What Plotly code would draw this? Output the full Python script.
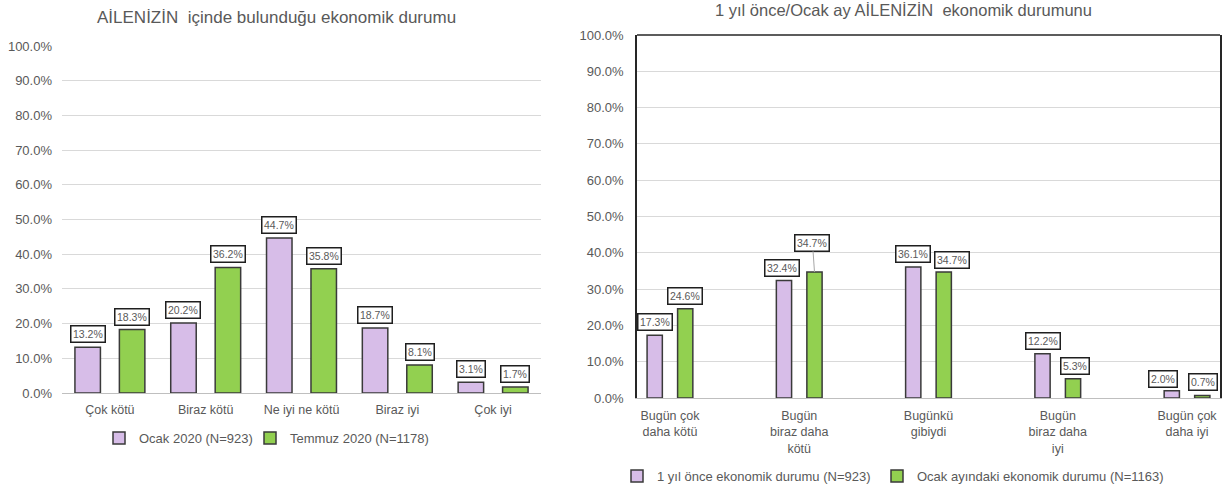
import plotly.graph_objects as go

# ---- data ----
left_categories = ["Çok kötü", "Biraz kötü", "Ne iyi ne kötü", "Biraz iyi", "Çok iyi"]
ocak_2020 = [13.2, 20.2, 44.7, 18.7, 3.1]
temmuz_2020 = [18.3, 36.2, 35.8, 8.1, 1.7]

right_categories = [
    "Bugün çok<br>daha kötü",
    "Bugün<br>biraz daha<br>kötü",
    "Bugünkü<br>gibiydi",
    "Bugün<br>biraz daha<br>iyi",
    "Bugün çok<br>daha iyi",
]
bir_yil_once = [17.3, 32.4, 36.1, 12.2, 2.0]
ocak_ayi = [24.6, 34.7, 34.7, 5.3, 0.7]

left_title = "AİLENİZİN  içinde bulunduğu ekonomik durumu"
right_title = "1 yıl önce/Ocak ay AİLENİZİN  ekonomik durumunu"
left_names = ["Ocak 2020 (N=923)", "Temmuz 2020 (N=1178)"]
right_names = ["1 yıl önce ekonomik durumu (N=923)", "Ocak ayındaki ekonomik durumu (N=1163)"]

# ---- style ----
PURPLE = "#D7BDE8"
GREEN = "#92D050"
EDGE = "#3A3A3A"
TXT = "#595959"
GRID = "#D9D9D9"
FONT = "Liberation Sans, Arial, sans-serif"

W, H = 1224, 486

fig = go.Figure()

# left panel bars (numeric positions so bar width/offset can be set explicitly)
lx = list(range(len(left_categories)))
L_W = 0.266
L_OFF = 0.232
fig.add_trace(go.Bar(
    x=lx, y=ocak_2020, name=left_names[0], width=L_W, offset=-L_OFF - L_W / 2,
    marker=dict(color=PURPLE, line=dict(color=EDGE, width=1.5)),
    xaxis="x", yaxis="y", legend="legend", showlegend=True,
))
fig.add_trace(go.Bar(
    x=lx, y=temmuz_2020, name=left_names[1], width=L_W, offset=L_OFF - L_W / 2,
    marker=dict(color=GREEN, line=dict(color=EDGE, width=1.5)),
    xaxis="x", yaxis="y", legend="legend3", showlegend=True,
))

# right panel bars
rx = list(range(len(right_categories)))
R_W = 0.118
R_OFF = 0.118
fig.add_trace(go.Bar(
    x=rx, y=bir_yil_once, name=right_names[0], width=R_W, offset=-R_OFF - R_W / 2,
    marker=dict(color=PURPLE, line=dict(color=EDGE, width=1.5)),
    xaxis="x2", yaxis="y2", legend="legend2", showlegend=True,
))
fig.add_trace(go.Bar(
    x=rx, y=ocak_ayi, name=right_names[1], width=R_W, offset=R_OFF - R_W / 2,
    marker=dict(color=GREEN, line=dict(color=EDGE, width=1.5)),
    xaxis="x2", yaxis="y2", legend="legend4", showlegend=True,
))

annotations = []


def value_label(xref, yref, x, y, xshift=0, yshift=13, lead=None):
    a = dict(
        xref=xref, yref=yref, x=x, y=y, text=f"{y:.1f}%",
        font=dict(family=FONT, size=10.5, color=TXT),
        bgcolor="white", bordercolor="#1F1F1F", borderwidth=1.5, borderpad=1.5,
    )
    if lead is None:
        a.update(showarrow=False, xshift=xshift, yshift=yshift, yanchor="middle")
    else:
        a.update(showarrow=True, ax=xshift, ay=-lead, arrowhead=0,
                 arrowwidth=1, arrowcolor="#A6A6A6")
    annotations.append(a)


for i, v in enumerate(ocak_2020):
    value_label("x", "y", i - L_OFF, v)
for i, v in enumerate(temmuz_2020):
    value_label("x", "y", i + L_OFF, v)

# right panel labels, some nudged sideways to avoid overlap
r_purple_shift = [(0, 13), (-2, 12), (0, 13), (0, 13), (-9, 12)]
r_green_shift = [(0, 13), (-2, None), (8, 12), (2, 13), (1, 13)]
for i, v in enumerate(bir_yil_once):
    dx, dy = r_purple_shift[i]
    value_label("x2", "y2", i - R_OFF, v, xshift=dx, yshift=dy)
for i, v in enumerate(ocak_ayi):
    dx, dy = r_green_shift[i]
    if dy is None:
        value_label("x2", "y2", i + R_OFF, v, xshift=dx, lead=29)
    else:
        value_label("x2", "y2", i + R_OFF, v, xshift=dx, yshift=dy)

# titles
annotations.append(dict(
    xref="paper", yref="paper", x=276 / W, y=1 - 18 / H, text=left_title,
    showarrow=False, xanchor="center", yanchor="middle",
    font=dict(family=FONT, size=17, color=TXT),
))
annotations.append(dict(
    xref="paper", yref="paper", x=903 / W, y=1 - 10 / H, text=right_title,
    showarrow=False, xanchor="center", yanchor="middle",
    font=dict(family=FONT, size=16.5, color=TXT),
))

xtickfont = dict(family=FONT, size=12.5, color=TXT)
ytickfont = dict(family=FONT, size=13, color=TXT)
legfont = dict(family=FONT, size=13, color=TXT)


def legend_at(x_px, y_px):
    return dict(
        orientation="h", x=x_px / W, y=1 - y_px / H, xanchor="left", yanchor="middle",
        font=legfont, itemwidth=30, visible=True,
        bgcolor="rgba(0,0,0,0)", itemclick=False, itemdoubleclick=False,
    )


fig.update_layout(
    width=W, height=H,
    showlegend=True,
    margin=dict(l=0, r=0, t=0, b=0, autoexpand=False),
    paper_bgcolor="white", plot_bgcolor="white",
    barmode="overlay",
    font=dict(family=FONT, color=TXT),
    annotations=annotations,
    xaxis=dict(
        domain=[62 / W, 541 / W], range=[-0.5, 4.5],
        tickmode="array", tickvals=lx, ticktext=left_categories,
        showgrid=False, zeroline=False, showline=True, linecolor="#BFBFBF", linewidth=1,
        ticks="", tickfont=xtickfont, ticklabelstandoff=5, automargin=False,
    ),
    yaxis=dict(
        domain=[1 - 393 / H, 1 - 46 / H], range=[0, 100], dtick=10,
        tickformat=".1f", ticksuffix="%",
        showgrid=True, gridcolor=GRID, gridwidth=1, zeroline=False, showline=False,
        ticks="", tickfont=ytickfont, ticklabelstandoff=9, automargin=False,
    ),
    xaxis2=dict(
        domain=[637 / W, 1220 / W], range=[-0.255, 4.255], anchor="y2",
        tickmode="array", tickvals=rx, ticktext=right_categories,
        showgrid=False, zeroline=False, showline=True, linecolor="#BFBFBF", linewidth=1,
        ticks="", tickfont=xtickfont, ticklabelstandoff=6, automargin=False,
    ),
    yaxis2=dict(
        domain=[1 - 398 / H, 1 - 35 / H], range=[0, 100], dtick=10, anchor="x2",
        tickformat=".1f", ticksuffix="%",
        showgrid=True, gridcolor=GRID, gridwidth=1, zeroline=False,
        showline=True, mirror=True, linecolor="#262626", linewidth=1.5,
        ticks="", tickfont=ytickfont, ticklabelstandoff=9, automargin=False,
    ),
    legend=legend_at(99, 438),
    legend3=legend_at(250, 438),
    legend2=legend_at(617, 476),
    legend4=legend_at(877, 476),
    shapes=[
        # top edge of the right panel frame
        dict(type="line", xref="x2 domain", yref="y2 domain", x0=0, x1=1, y0=1, y1=1,
             line=dict(color="#262626", width=1.5)),
    ],
)

fig.write_html("out.html")
